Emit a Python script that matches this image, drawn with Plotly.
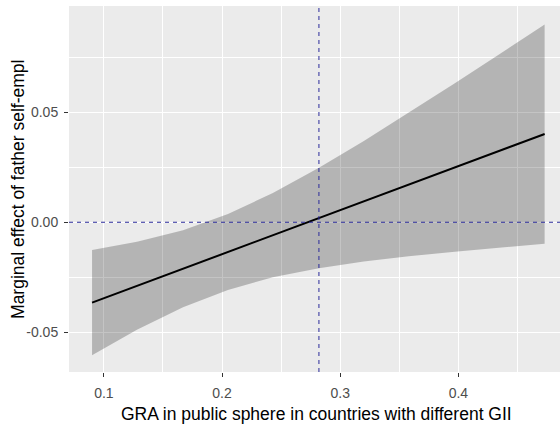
import plotly.graph_objects as go

# Values
gra = [0.090, 0.128, 0.167, 0.205, 0.243, 0.282, 0.320, 0.358, 0.397, 0.435, 0.473]
effect = [-0.0366, -0.0290, -0.0211, -0.0135, -0.0059, 0.0019, 0.0095, 0.0171, 0.0250, 0.0326, 0.0402]
lower = [-0.0606, -0.0490, -0.0387, -0.0308, -0.0251, -0.0209, -0.0179, -0.0155, -0.0134, -0.0115, -0.0098]
upper = [-0.0126, -0.0089, -0.0036, 0.0038, 0.0133, 0.0248, 0.0370, 0.0498, 0.0633, 0.0766, 0.0901]
vline_x = 0.282
hline_y = 0.0
x_ticks = [0.1, 0.2, 0.3, 0.4]
x_tick_labels = ["0.1", "0.2", "0.3", "0.4"]
y_ticks = [-0.05, 0.0, 0.05]
y_tick_labels = ["-0.05", "0.00", "0.05"]
x_title = "GRA in public sphere in countries with different GII"
y_title = "Marginal effect of father self-empl"

FONT = "Arial, Liberation Sans, sans-serif"

fig = go.Figure()
fig.add_trace(go.Scatter(x=gra + gra[::-1], y=upper + lower[::-1], fill="toself",
                         fillcolor="rgba(0,0,0,0.23)", line=dict(width=0),
                         mode="lines", hoverinfo="skip", showlegend=False))
fig.add_trace(go.Scatter(x=gra, y=effect, mode="lines",
                         line=dict(color="black", width=2), showlegend=False))

fig.add_hline(y=hline_y, line=dict(color="#2B2B9A", width=1, dash="4px,4px"), layer="above")
fig.add_vline(x=vline_x, line=dict(color="#2B2B9A", width=1, dash="4px,4px"), layer="above")

fig.update_layout(
    width=560, height=428,
    margin=dict(l=69, r=0, t=6, b=56, autoexpand=False),
    paper_bgcolor="white", plot_bgcolor="#EBEBEB",
    font=dict(family=FONT),
    showlegend=False,
    annotations=[
        dict(text=x_title, xref="paper", yref="paper", x=0.505, y=-0.115,
             xanchor="center", yanchor="middle", showarrow=False,
             font=dict(size=17.5, color="black", family=FONT)),
        dict(text=y_title, xref="paper", yref="paper", x=-0.104, y=0.5,
             xanchor="center", yanchor="middle", textangle=-90, showarrow=False,
             font=dict(size=17.5, color="black", family=FONT)),
    ],
)
fig.update_xaxes(range=[0.0705, 0.486], tickvals=x_ticks, ticktext=x_tick_labels,
                 automargin=False,
                 showgrid=True, gridcolor="white", gridwidth=1.2,
                 minor=dict(dtick=0.05, tick0=0.05, showgrid=True, gridcolor="white", gridwidth=0.6, ticks=""),
                 ticks="outside", ticklen=4, tickcolor="#333333", tickwidth=1,
                 ticklabelstandoff=4,
                 tickfont=dict(size=14, color="#4D4D4D", family=FONT),
                 zeroline=False, showline=False)
fig.update_yaxes(range=[-0.0682, 0.0985], tickvals=y_ticks, ticktext=y_tick_labels,
                 automargin=False,
                 showgrid=True, gridcolor="white", gridwidth=1.2,
                 minor=dict(tickvals=[-0.025, 0.025, 0.075], showgrid=True, gridcolor="white", gridwidth=0.6, ticks=""),
                 ticks="outside", ticklen=4, tickcolor="#333333", tickwidth=1,
                 ticklabelstandoff=3,
                 tickfont=dict(size=14, color="#4D4D4D", family=FONT),
                 zeroline=False, showline=False)

fig.write_html("out.html", config={"displayModeBar": False},
               post_script="document.body.style.margin='0';")
